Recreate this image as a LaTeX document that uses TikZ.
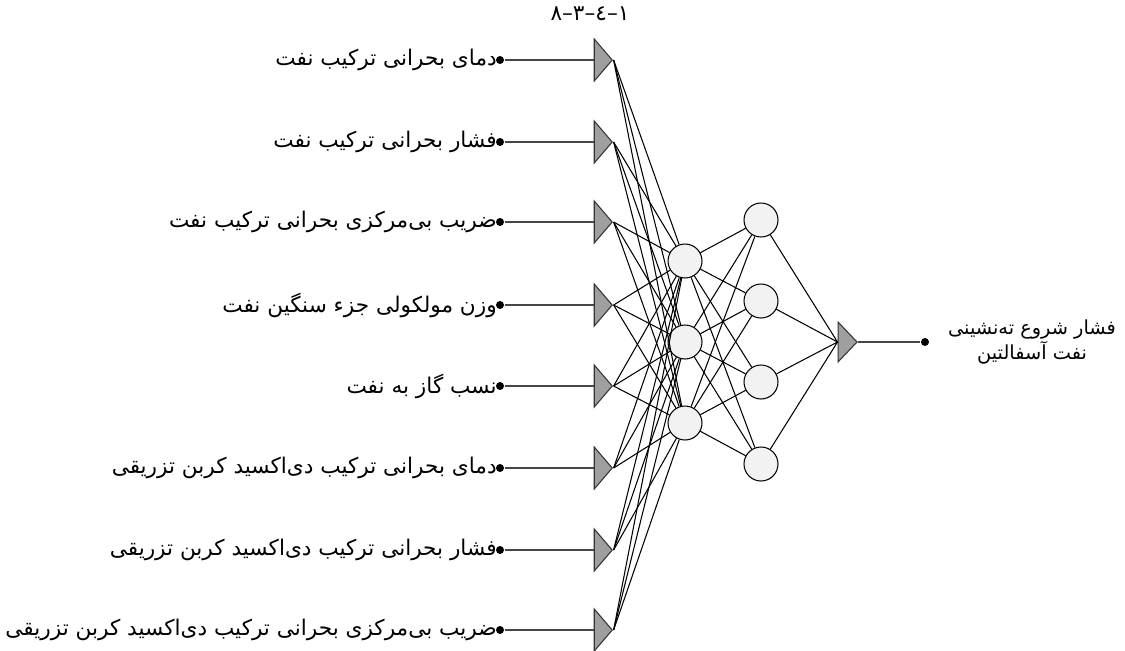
\documentclass[tikz,border=0pt]{standalone}
\usepackage{fontspec}
\usepackage{tikz}
\usetikzlibrary{positioning,shapes.geometric}
\newfontfamily\arabicfont[Script=Arabic]{DejaVu Sans}
\TeXXeTstate=1

\begin{document}
\begin{tikzpicture}[x=0.02cm,y=-0.02cm,line width=0.6pt]
  \tikzstyle{inbox}=[isosceles triangle,isosceles triangle stretches,draw=black!80,fill=gray!75,inner sep=0pt,minimum width=8.4mm,minimum height=3.6mm]
  \tikzstyle{neuron}=[circle,draw=black,fill=gray!10,inner sep=0pt,minimum size=6.8mm]
  \tikzstyle{pin}=[circle,fill=black,inner sep=0pt,minimum size=1.6mm]
  \tikzstyle{lbl}=[font=\arabicfont\fontsize{12.3}{15}\selectfont,inner sep=0pt]
  \tikzstyle{feed}=[line width=1.4pt,gray!55!black]
  \useasboundingbox (0,0) rectangle (1125,650);
  % input layer
  \node[inbox] (i1) at (602,60) {};
  \node[inbox] (i2) at (602,142) {};
  \node[inbox] (i3) at (602,222) {};
  \node[inbox] (i4) at (602,305) {};
  \node[inbox] (i5) at (602,386) {};
  \node[inbox] (i6) at (602,468) {};
  \node[inbox] (i7) at (602,550) {};
  \node[inbox] (i8) at (602,630) {};
  \node[pin] (d1) at (500,60) {};
  \node[pin] (d2) at (500,142) {};
  \node[pin] (d3) at (500,222) {};
  \node[pin] (d4) at (500,305) {};
  \node[pin] (d5) at (500,386) {};
  \node[pin] (d6) at (500,468) {};
  \node[pin] (d7) at (500,550) {};
  \node[pin] (d8) at (500,630) {};
  \node[lbl,left=-1pt of d1] (t1) {\beginR دمای بحرانی ترکیب نفت\endR};
  \node[lbl,left=-1pt of d2] (t2) {\beginR فشار بحرانی ترکیب نفت\endR};
  \node[lbl,left=-1pt of d3] (t3) {\beginR ضریب بی‌مرکزی بحرانی ترکیب نفت\endR};
  \node[lbl,left=-1pt of d4] (t4) {\beginR وزن مولکولی جزء سنگین نفت\endR};
  \node[lbl,left=-1pt of d5] (t5) {\beginR نسب گاز به نفت\endR};
  \node[lbl,left=-1pt of d6] (t6) {\beginR دمای بحرانی ترکیب دی‌اکسید کربن تزریقی\endR};
  \node[lbl,left=-1pt of d7] (t7) {\beginR فشار بحرانی ترکیب دی‌اکسید کربن تزریقی\endR};
  \node[lbl,left=-1pt of d8] (t8) {\beginR ضریب بی‌مرکزی بحرانی ترکیب دی‌اکسید کربن تزریقی\endR};
  \node[lbl] (arch) at (590,14) {١–٤–٣–٨};
  % hidden layers
  \node[neuron] (h1) at (685,261) {};
  \node[neuron] (h2) at (685,342) {};
  \node[neuron] (h3) at (685,423) {};
  \node[neuron] (g1) at (761,220) {};
  \node[neuron] (g2) at (761,301) {};
  \node[neuron] (g3) at (761,382) {};
  \node[neuron] (g4) at (761,464) {};
  % output
  \node[inbox,minimum width=8mm,minimum height=3.8mm] (out) at (846,342) {};
  \node[pin] (od) at (925,342) {};
  \node[lbl,font=\arabicfont\fontsize{11}{14}\selectfont,align=center] (tout) at (1032,342) {\beginR فشار شروع ته‌نشینی\endR\\\beginR نفت آسفالتین\endR};
  % connections
  \foreach \i in {1,...,8} {
    \draw[feed] (d\i) -- (i\i.west);
    \foreach \h in {1,2,3} \draw (i\i.apex) -- (h\h);
  }
  \foreach \h in {1,2,3} \foreach \g in {1,...,4} \draw (h\h) -- (g\g);
  \foreach \g in {1,...,4} \draw (g\g) -- (out.west);
  \draw[feed] (out.apex) -- (od);
\end{tikzpicture}
\end{document}
